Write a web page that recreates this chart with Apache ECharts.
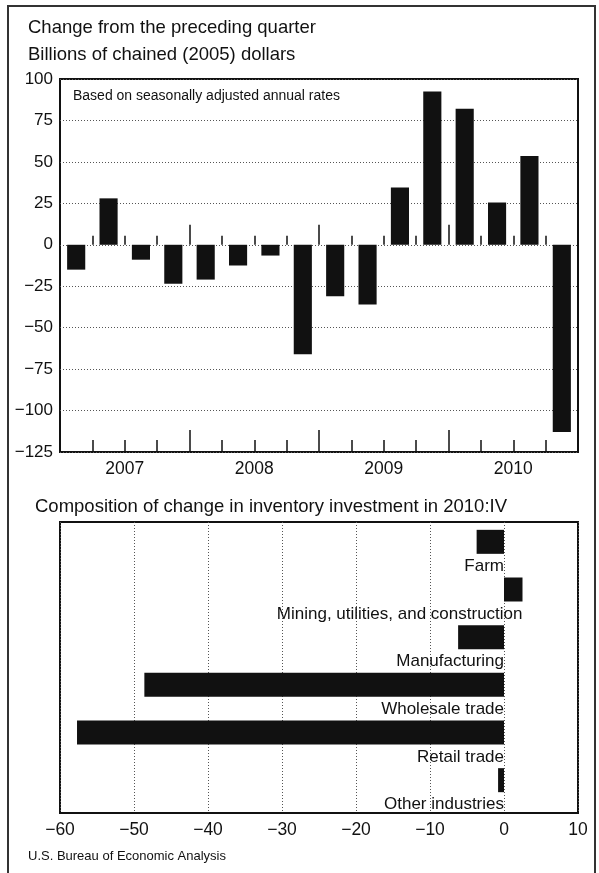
<!DOCTYPE html>
<html>
<head>
<meta charset="utf-8">
<script src="https://cdn.jsdelivr.net/npm/echarts@6.0.0/dist/echarts.min.js"></script>
<style>
  html, body { margin: 0; padding: 0; background: #fff; }
  #chart { width: 599px; height: 873px; }
</style>
</head>
<body>
<div id="chart"></div>
<script>
// top panel: change from the preceding quarter, 2007:I - 2010:IV
const quarters = [
  '2007:I', '2007:II', '2007:III', '2007:IV',
  '2008:I', '2008:II', '2008:III', '2008:IV',
  '2009:I', '2009:II', '2009:III', '2009:IV',
  '2010:I', '2010:II', '2010:III', '2010:IV'
];
const years = ['2007', '2008', '2009', '2010'];
const quarterChange = [-15, 28, -9, -23.5, -21, -12.5, -6.5, -66, -31, -36, 34.5, 92.5, 82, 25.5, 53.5, -113];

// bottom panel: composition of change in 2010:IV
const industries = [
  'Farm',
  'Mining, utilities, and construction',
  'Manufacturing',
  'Wholesale trade',
  'Retail trade',
  'Other industries'
];
const industryChange = [-3.7, 2.5, -6.2, -48.6, -57.7, -0.8];

const FONT = '"Liberation Sans", Arial, Helvetica, sans-serif';
const INK = '#111';

// use a real minus sign like the print version
const minus = (v) => String(v).replace('-', '\u2212');

const dotted = { show: true, lineStyle: { type: [1, 2], color: '#555', width: 1 } };

// ticks up from an axis line (bottom edge or zero line)
const tickAxis = (data, len, onZero, labels) => ({
  type: 'category',
  gridIndex: 0,
  data: data,
  position: 'bottom',
  axisLine: { show: false, onZero: onZero, onZeroAxisIndex: 0 },
  axisTick: { show: true, inside: true, interval: 0, length: len, lineStyle: { color: INK, width: 1.5 } },
  axisLabel: labels
    ? { show: true, interval: 0, fontFamily: FONT, fontSize: 17.5, color: INK, margin: 8 }
    : { show: false },
  splitLine: { show: false }
});

const chart = echarts.init(document.getElementById('chart'));

chart.setOption({
  animation: false,
  textStyle: { fontFamily: FONT },
  grid: [
    { left: 60, right: 21, top: 79, bottom: 421, show: true, borderColor: INK, borderWidth: 2, backgroundColor: 'transparent' },
    { left: 60, right: 21, top: 522, bottom: 60, show: true, borderColor: INK, borderWidth: 2, backgroundColor: 'transparent' },
    { left: 60, right: 21, top: 518, bottom: 69 }
  ],
  xAxis: [
    tickAxis(quarters, 12, false, false),
    tickAxis(years, 22, false, true),
    tickAxis(quarters, 9, true, false),
    tickAxis(years, 20, true, false),
    {
      type: 'value',
      gridIndex: 1,
      min: -60,
      max: 10,
      interval: 10,
      axisLine: { show: false },
      axisTick: { show: false },
      axisLabel: { fontFamily: FONT, fontSize: 17.5, color: INK, margin: 8, formatter: minus },
      splitLine: dotted
    },
    { type: 'value', gridIndex: 2, min: -60, max: 10, show: false }
  ],
  yAxis: [
    {
      type: 'value',
      gridIndex: 0,
      min: -125,
      max: 100,
      interval: 25,
      axisLine: { show: false },
      axisTick: { show: false },
      axisLabel: { fontFamily: FONT, fontSize: 17, color: INK, margin: 7, formatter: minus },
      splitLine: dotted
    },
    { type: 'category', gridIndex: 1, show: false },
    { type: 'category', gridIndex: 2, data: industries, inverse: true, show: false }
  ],
  series: [
    {
      type: 'bar',
      xAxisIndex: 0,
      yAxisIndex: 0,
      data: quarterChange,
      barWidth: '56%',
      itemStyle: { color: INK }
    },
    {
      type: 'bar',
      xAxisIndex: 5,
      yAxisIndex: 2,
      data: industryChange,
      barWidth: 24,
      itemStyle: { color: INK },
      label: {
        show: true,
        position: ['100%', '100%'],
        align: 'right',
        verticalAlign: 'top',
        offset: [0, 4],
        formatter: '{b}',
        fontFamily: FONT,
        fontSize: 17,
        color: INK
      }
    }
  ],
  graphic: [
    // outer frame
    { type: 'rect', shape: { x: 8, y: 6, width: 587, height: 900 }, style: { fill: 'none', stroke: '#333', lineWidth: 2 }, silent: true },
    { type: 'text', left: 28, top: 18, style: { text: 'Change from the preceding quarter', font: '18.5px ' + FONT, fill: INK } },
    { type: 'text', left: 28, top: 45, style: { text: 'Billions of chained (2005) dollars', font: '18.5px ' + FONT, fill: INK } },
    { type: 'text', left: 73, top: 89, style: { text: 'Based on seasonally adjusted annual rates', font: '14px ' + FONT, fill: INK } },
    { type: 'text', left: 35, top: 497, style: { text: 'Composition of change in inventory investment in 2010:IV', font: '18.5px ' + FONT, fill: INK } },
    { type: 'text', left: 28, top: 850, style: { text: 'U.S. Bureau of Economic Analysis', font: '13px ' + FONT, fill: INK } }
  ]
});
</script>
</body>
</html>
